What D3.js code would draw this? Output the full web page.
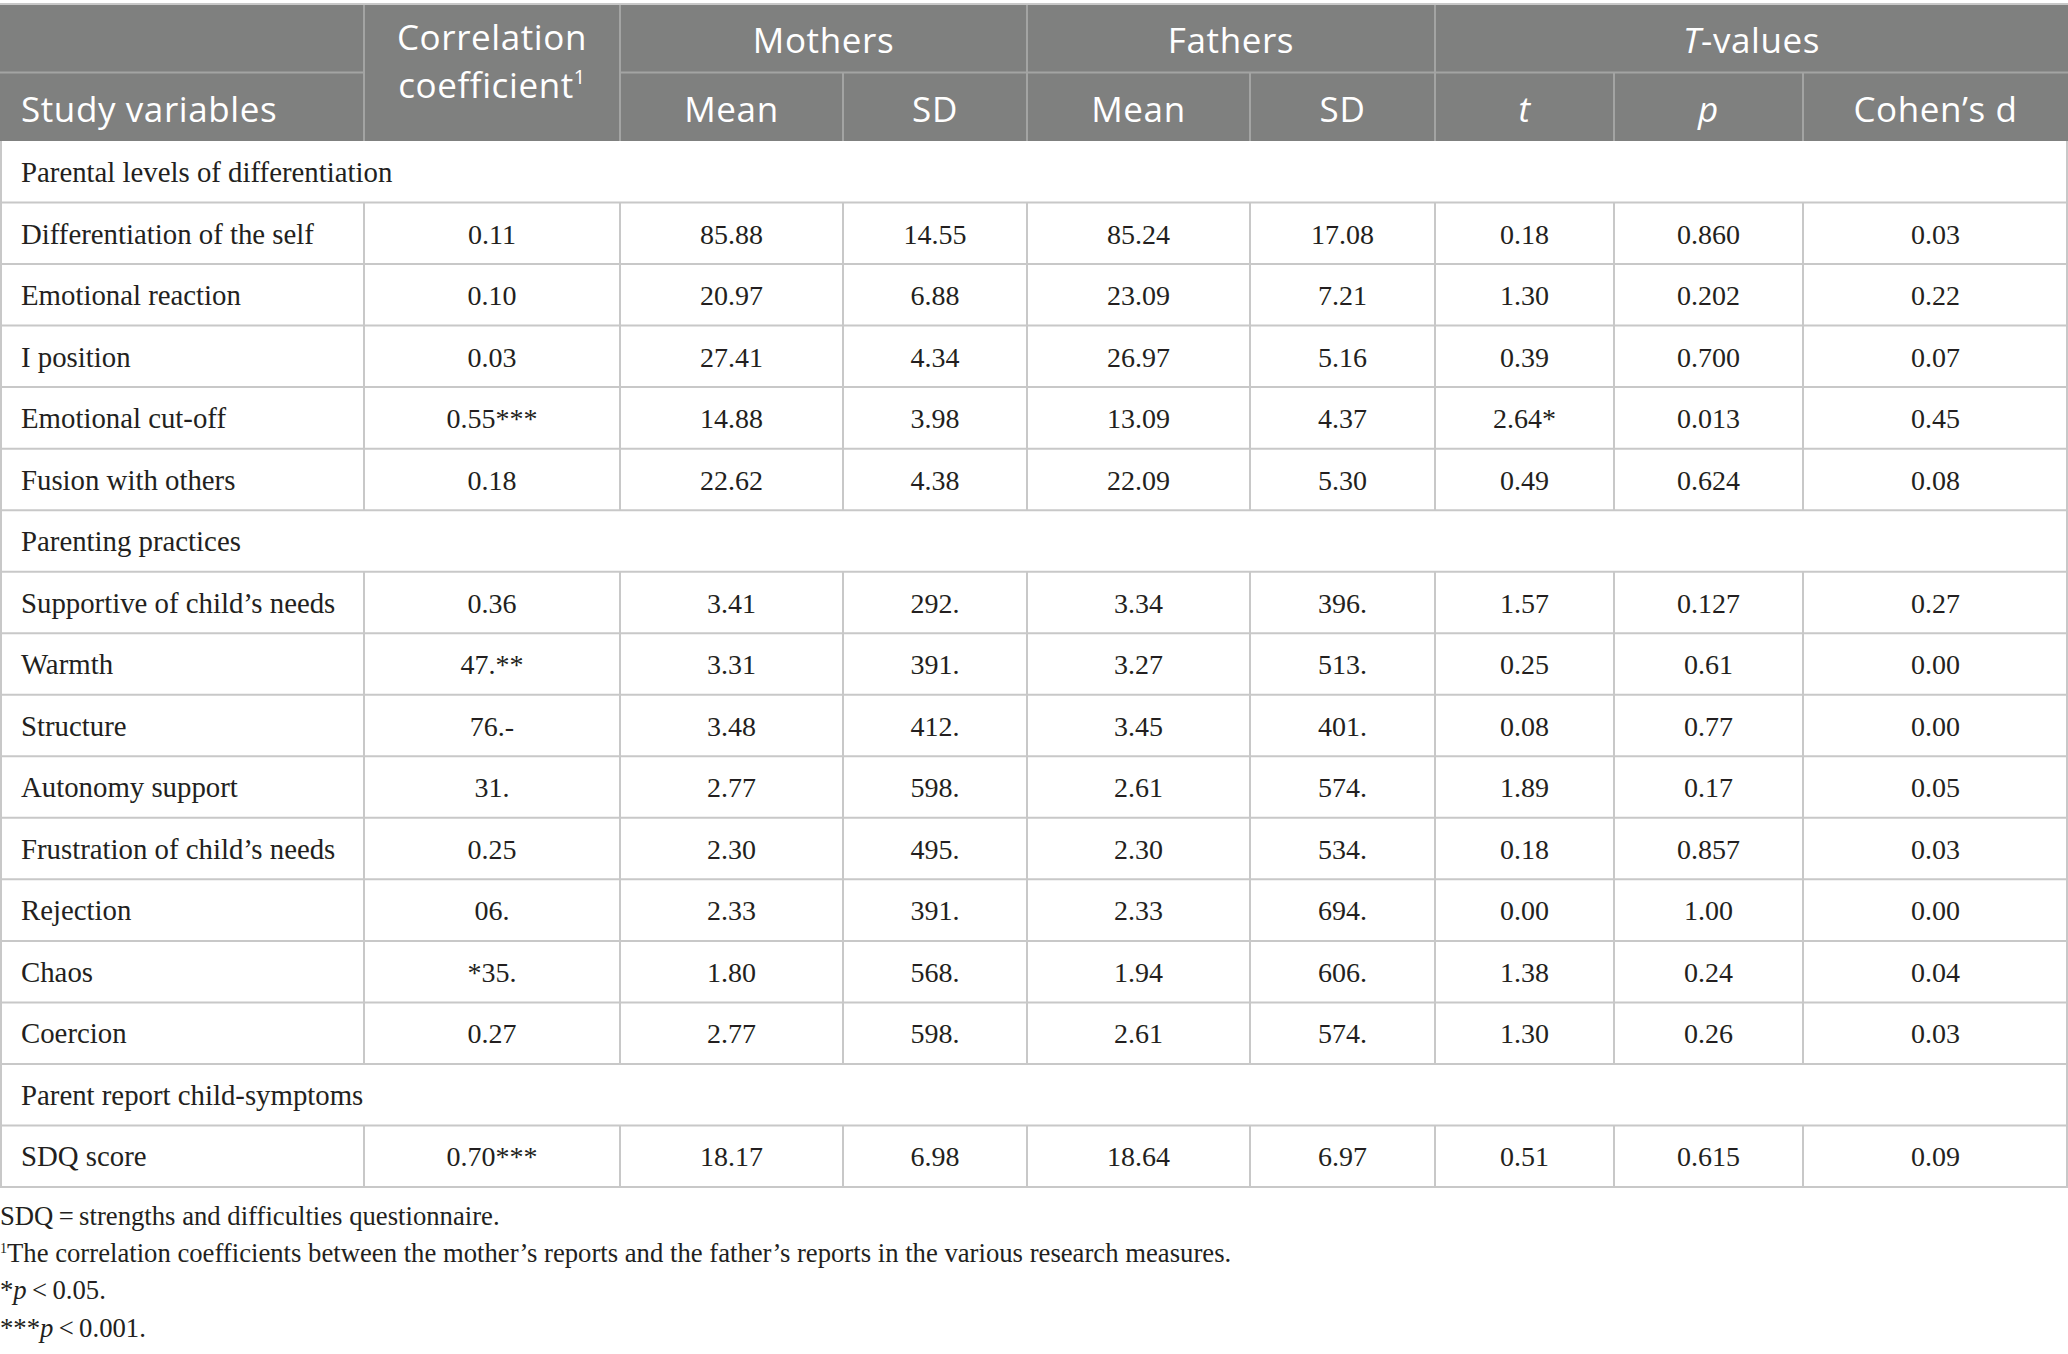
<!DOCTYPE html>
<html lang="en">
<head>
    <meta charset="UTF-8">
    <title>Mothers vs fathers - study variables</title>
    <script src="https://d3js.org/d3.v7.min.js"></script>
    <style>
        body { margin: 0; background: #fff; }
        svg { display: block; }
        .hd { font-family: 'Open Sans', 'Noto Sans', sans-serif; fill: #fff; font-size: 35px; letter-spacing: 0.6px; }
        .cell { font-family: 'Liberation Serif', 'Times New Roman', serif; fill: #231f20; font-size: 28px; }
        .label { font-size: 28.8px; }
        .note { font-family: 'Liberation Serif', 'Times New Roman', serif; fill: #231f20; font-size: 26.7px; }
    </style>
</head>
<body>
<svg id="chart" width="2068" height="1354"></svg>
<script>
    // ---- data ----
    const sections = ["Parental levels of differentiation", "Parenting practices", "Parent report child-symptoms"];
    const variables = ["Differentiation of the self", "Emotional reaction", "I position", "Emotional cut-off",
        "Fusion with others", "Supportive of child\u2019s needs", "Warmth", "Structure", "Autonomy support",
        "Frustration of child\u2019s needs", "Rejection", "Chaos", "Coercion", "SDQ score"];
    const sectionOf = [0, 0, 0, 0, 0, 1, 1, 1, 1, 1, 1, 1, 1, 2];
    const corr = ["0.11", "0.10", "0.03", "0.55***", "0.18", "0.36", "47.**", "76.-", "31.", "0.25", "06.", "*35.", "0.27", "0.70***"];
    const motherMean = ["85.88", "20.97", "27.41", "14.88", "22.62", "3.41", "3.31", "3.48", "2.77", "2.30", "2.33", "1.80", "2.77", "18.17"];
    const motherSD = ["14.55", "6.88", "4.34", "3.98", "4.38", "292.", "391.", "412.", "598.", "495.", "391.", "568.", "598.", "6.98"];
    const fatherMean = ["85.24", "23.09", "26.97", "13.09", "22.09", "3.34", "3.27", "3.45", "2.61", "2.30", "2.33", "1.94", "2.61", "18.64"];
    const fatherSD = ["17.08", "7.21", "5.16", "4.37", "5.30", "396.", "513.", "401.", "574.", "534.", "694.", "606.", "574.", "6.97"];
    const tValues = ["0.18", "1.30", "0.39", "2.64*", "0.49", "1.57", "0.25", "0.08", "1.89", "0.18", "0.00", "1.38", "1.30", "0.51"];
    const pValues = ["0.860", "0.202", "0.700", "0.013", "0.624", "0.127", "0.61", "0.77", "0.17", "0.857", "1.00", "0.24", "0.26", "0.615"];
    const cohenD = ["0.03", "0.22", "0.07", "0.45", "0.08", "0.27", "0.00", "0.00", "0.05", "0.03", "0.00", "0.04", "0.03", "0.09"];

    const groupLabels = ["Mothers", "Fathers", "T-values"];
    const subLabels = ["Mean", "SD", "Mean", "SD", "t", "p", "Cohen\u2019s d"];

    // ---- layout ----
    const W = 2068;
    const colEdges = [0, 364, 620, 843, 1027, 1250, 1435, 1614, 1803, W];
    const headTop = 4, headMid = 72.5, headBottom = 141, bodyBottom = 1187;
    const headColor = "#7f807f", headLine = "#a3a4a3", gridColor = "#c8c8c8";

    // rows: section headers interleaved with variable rows
    const rows = [];
    variables.forEach((v, i) => {
        if (i === 0 || sectionOf[i] !== sectionOf[i - 1]) rows.push({ type: "section", label: sections[sectionOf[i]] });
        rows.push({
            type: "data", label: v,
            vals: [corr[i], motherMean[i], motherSD[i], fatherMean[i], fatherSD[i], tValues[i], pValues[i], cohenD[i]]
        });
    });

    const y = d3.scaleBand().domain(d3.range(rows.length)).range([headBottom, bodyBottom]).padding(0);
    const colX = d3.scaleOrdinal().domain(d3.range(colEdges.length)).range(colEdges);
    const colCenter = i => (colX(i) + colX(i + 1)) / 2;

    const svg = d3.select("#chart");

    // ---- header ----
    svg.append("rect").attr("x", 0).attr("y", headTop).attr("width", W).attr("height", headBottom - headTop)
        .attr("fill", headColor);

    const hLines = svg.append("g").attr("stroke", headLine).attr("stroke-width", 2);
    // middle horizontal line (not across correlation column)
    hLines.append("line").attr("x1", 0).attr("x2", colX(1)).attr("y1", headMid).attr("y2", headMid);
    hLines.append("line").attr("x1", colX(2)).attr("x2", W).attr("y1", headMid).attr("y2", headMid);
    // full-height separators
    [1, 2, 4, 6].forEach(i => hLines.append("line").attr("x1", colX(i)).attr("x2", colX(i))
        .attr("y1", headTop).attr("y2", headBottom));
    // second-row separators
    [3, 5, 7, 8].forEach(i => hLines.append("line").attr("x1", colX(i)).attr("x2", colX(i))
        .attr("y1", headMid).attr("y2", headBottom));

    svg.append("line").attr("x1", 0).attr("x2", W).attr("y1", headTop).attr("y2", headTop)
        .attr("stroke", gridColor).attr("stroke-width", 2);

    svg.append("text").attr("class", "hd").attr("x", 21).attr("y", 122).text("Study variables");

    // two-line header as two separate texts
    svg.append("text").attr("class", "hd").attr("text-anchor", "middle")
        .attr("x", colCenter(1)).attr("y", 50).text("Correlation");
    const coef = svg.append("text").attr("class", "hd").attr("text-anchor", "middle")
        .attr("x", colCenter(1)).attr("y", 98).text("coefficient");
    coef.append("tspan").attr("font-size", 20).attr("dy", -14).text("1");

    const groupSpans = [[2, 4], [4, 6], [6, 9]];
    groupSpans.forEach(([a, b], gi) => {
        const t = svg.append("text").attr("class", "hd").attr("text-anchor", "middle")
            .attr("x", (colX(a) + colX(b)) / 2).attr("y", 53);
        if (gi === 2) {
            t.append("tspan").attr("font-style", "italic").text("T");
            t.append("tspan").text("-values");
        } else {
            t.text(groupLabels[gi]);
        }
    });

    svg.selectAll("text.sub").data(subLabels).join("text")
        .attr("class", "hd sub").attr("text-anchor", "middle")
        .attr("x", (d, i) => colCenter(i + 2)).attr("y", 122)
        .attr("font-style", d => (d === "t" || d === "p") ? "italic" : null)
        .text(d => d);

    // ---- body ----
    const grid = svg.append("g").attr("stroke", gridColor).attr("stroke-width", 2);
    rows.forEach((r, i) => {
        grid.append("line").attr("x1", 0).attr("x2", W).attr("y1", y(i) + y.bandwidth()).attr("y2", y(i) + y.bandwidth());
        const inner = r.type === "data" ? colEdges.slice(1, -1) : [];
        [0, ...inner, W - 1].forEach(xv => grid.append("line")
            .attr("x1", xv === 0 ? 1 : xv).attr("x2", xv === 0 ? 1 : xv)
            .attr("y1", y(i)).attr("y2", y(i) + y.bandwidth()));
    });

    const rowG = svg.selectAll("g.row").data(rows).join("g").attr("class", "row")
        .attr("transform", (d, i) => `translate(0,${y(i)})`);

    rowG.append("text").attr("class", "cell label").attr("x", 21).attr("y", 41).text(d => d.label);

    rowG.filter(d => d.type === "data").selectAll("text.val")
        .data(d => d.vals).join("text")
        .attr("class", "cell val").attr("text-anchor", "middle")
        .attr("x", (d, i) => colCenter(i + 1)).attr("y", 41)
        .text(d => d);

    // ---- footnotes ----
    const notes = svg.append("g");
    notes.append("text").attr("class", "note").attr("x", 0).attr("y", 1225)
        .text("SDQ\u2009=\u2009strengths and difficulties questionnaire.");
    const n2 = notes.append("text").attr("class", "note").attr("x", 0).attr("y", 1262);
    n2.append("tspan").attr("font-size", 14).attr("dy", -9).text("1");
    n2.append("tspan").attr("dy", 9).text("The correlation coefficients between the mother\u2019s reports and the father\u2019s reports in the various research measures.");
    const n3 = notes.append("text").attr("class", "note").attr("x", 0).attr("y", 1299);
    n3.append("tspan").text("*");
    n3.append("tspan").attr("font-style", "italic").text("p");
    n3.append("tspan").text("\u2009<\u20090.05.");
    const n4 = notes.append("text").attr("class", "note").attr("x", 0).attr("y", 1337);
    n4.append("tspan").text("***");
    n4.append("tspan").attr("font-style", "italic").text("p");
    n4.append("tspan").text("\u2009<\u20090.001.");
</script>
</body>
</html>
